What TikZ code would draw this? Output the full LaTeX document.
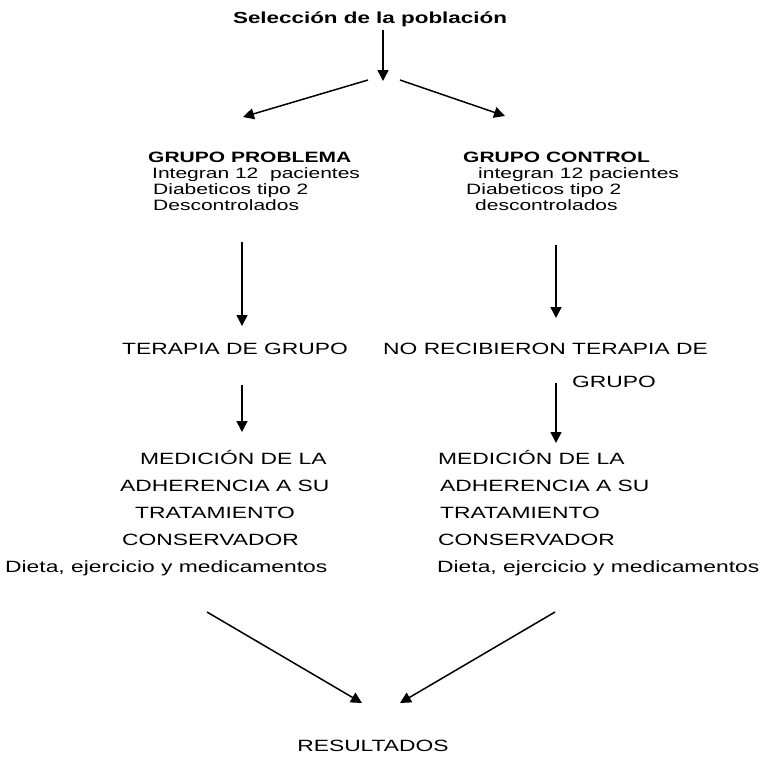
\documentclass[tikz,border=0pt]{standalone}
\usepackage{fontspec}
\setmainfont{Liberation Sans}[FakeStretch=1.4]
\usetikzlibrary{arrows.meta}

\begin{document}
\begin{tikzpicture}[x=1pt,y=-1pt,
	every node/.style={inner sep=0pt, anchor=base west, align=left},
	titulo/.style={font=\fontsize{16}{18}\selectfont\bfseries, anchor=base},
	grupo/.style={font=\fontsize{15}{16}\selectfont},
	texto/.style={font=\fontsize{16.3}{27}\selectfont},
	flecha/.style={line width=1.5pt, -{Triangle[length=11pt,width=11pt]}}]
	\useasboundingbox (0,0) rectangle (767,766);
	
	% textos (base = linea inferior)
	\node[titulo] (seleccion) at (370,23) {Selección de la población};
	\node[grupo] (gprob) at (148,210) {\textbf{GRUPO PROBLEMA}\\
		\hspace*{4pt}Integran 12~~pacientes\\
		\hspace*{5pt}Diabeticos tipo 2\\
		\hspace*{5pt}Descontrolados};
	\node[grupo] (gcont) at (463,210) {\textbf{GRUPO CONTROL}\\
		\hspace*{15pt}integran 12 pacientes\\
		\hspace*{3pt}Diabeticos tipo 2\\
		\hspace*{12pt}descontrolados};
	\node[texto] (terapia) at (122,354) {TERAPIA DE GRUPO};
	\node[font=\fontsize{16.3}{33}\selectfont] (norecib) at (383,387) {NO RECIBIERON TERAPIA DE\\
		\hspace*{189pt}GRUPO};
	\node[texto] (medprob) at (5,572) {\hspace*{135pt}MEDICIÓN DE LA\\
		\hspace*{115pt}ADHERENCIA A SU\\
		\hspace*{130pt}TRATAMIENTO\\
		\hspace*{117pt}CONSERVADOR\\
		Dieta, ejercicio y medicamentos};
	\node[texto] (medcont) at (437,572) {\hspace*{1pt}MEDICIÓN DE LA\\
		\hspace*{3pt}ADHERENCIA A SU\\
		\hspace*{3pt}TRATAMIENTO\\
		\hspace*{1pt}CONSERVADOR\\
		Dieta, ejercicio y medicamentos};
	\node[texto, anchor=base] (result) at (373,751) {RESULTADOS};
	
	% extremos de las flechas
	\coordinate (sel-a) at (383,30);
	\coordinate (split) at (383,81);
	\coordinate (split-l) at (368,80);
	\coordinate (split-r) at (400,80);
	\coordinate (gprob-n) at (243,117);
	\coordinate (gcont-n) at (505,116);
	\coordinate (gprob-s) at (242,242);
	\coordinate (terapia-n) at (242,326);
	\coordinate (gcont-s) at (556,245);
	\coordinate (norecib-n) at (556,318);
	\coordinate (terapia-s) at (242,385);
	\coordinate (medprob-n) at (242,432);
	\coordinate (norecib-s) at (556,383);
	\coordinate (medcont-n) at (556,443);
	\coordinate (medprob-s) at (207,612);
	\coordinate (medcont-s) at (555,612);
	\coordinate (result-l) at (362,703);
	\coordinate (result-r) at (400,703);
	
	% flechas
	\draw[flecha] (sel-a) -- (split);
	\draw[flecha] (split-l) -- (gprob-n);
	\draw[flecha] (split-r) -- (gcont-n);
	\draw[flecha] (gprob-s) -- (terapia-n);
	\draw[flecha] (gcont-s) -- (norecib-n);
	\draw[flecha] (terapia-s) -- (medprob-n);
	\draw[flecha] (norecib-s) -- (medcont-n);
	\draw[flecha] (medprob-s) -- (result-l);
	\draw[flecha] (medcont-s) -- (result-r);
\end{tikzpicture}
\end{document}
